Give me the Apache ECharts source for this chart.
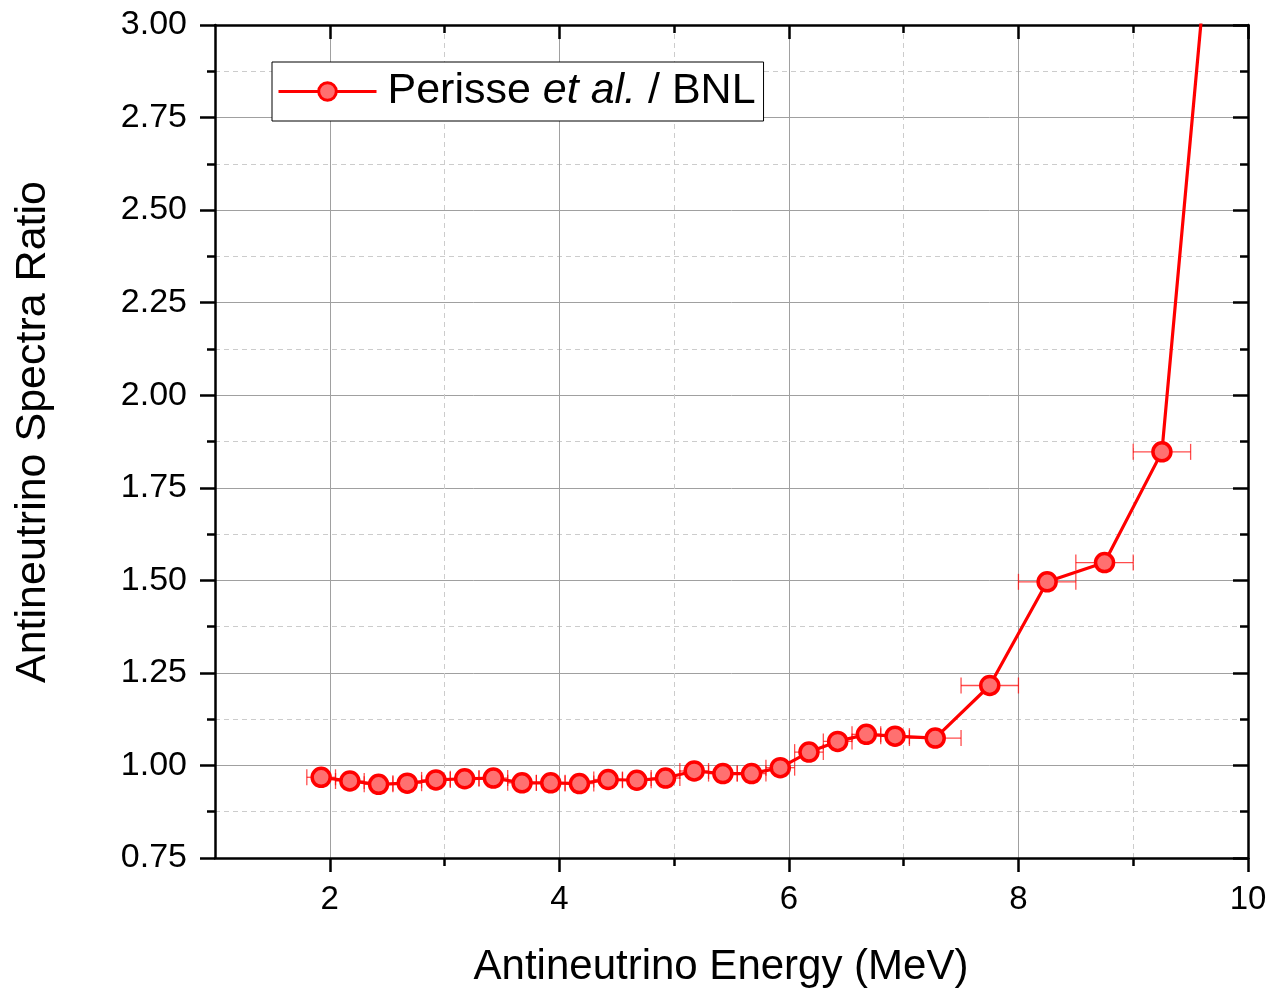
<!DOCTYPE html>
<html>
<head>
<meta charset="utf-8">
<script src="https://cdn.jsdelivr.net/npm/echarts@6/dist/echarts.min.js"></script>
<style>
  html, body { margin: 0; padding: 0; background: #fff; }
  #chart { width: 1270px; height: 990px; }
</style>
</head>
<body>
<div id="chart"></div>
<script>
// Antineutrino spectra ratio vs energy (Perisse et al. / BNL)
const energy = [1.925, 2.175, 2.425, 2.675, 2.925, 3.175, 3.425, 3.675, 3.925, 4.175,
                4.425, 4.675, 4.925, 5.175, 5.425, 5.675, 5.925, 6.175, 6.425, 6.675,
                6.925, 7.275, 7.75, 8.25, 8.75, 9.25, 9.75];
const ratio = [0.968, 0.958, 0.949, 0.952, 0.961, 0.964, 0.966, 0.953, 0.953, 0.951,
               0.962, 0.960, 0.966, 0.985, 0.978, 0.978, 0.994, 1.036, 1.065, 1.084,
               1.079, 1.074, 1.216, 1.496, 1.548, 1.847, 3.55];
const binLow = [1.80, 2.05, 2.30, 2.55, 2.80, 3.05, 3.30, 3.55, 3.80, 4.05,
                4.30, 4.55, 4.80, 5.05, 5.30, 5.55, 5.80, 6.05, 6.30, 6.55,
                6.80, 7.05, 7.50, 8.00, 8.50, 9.00, 9.50];
const binHigh = [2.05, 2.30, 2.55, 2.80, 3.05, 3.30, 3.55, 3.80, 4.05, 4.30,
                 4.55, 4.80, 5.05, 5.30, 5.55, 5.80, 6.05, 6.30, 6.55, 6.80,
                 7.05, 7.50, 8.00, 8.50, 9.00, 9.50, 10.00];
const xMajorTicks = [2, 4, 6, 8, 10];
const xMinorTicks = [3, 5, 7, 9];

const FONT = "'Liberation Sans', Arial, sans-serif";
const RED = '#ff0000';
const FILL = '#ff7070';
const ERR = 'rgba(255, 0, 0, 0.7)';
const MAJOR_GRID = '#a0a0a0';
const MINOR_GRID = '#cccccc';

const lineData = energy.map((e, i) => [e, ratio[i]]);
const errData = energy.map((e, i) => [binLow[i], binHigh[i], ratio[i]]);

const gridBox = { left: 215, right: 22, top: 25, bottom: 132 };

const chart = echarts.init(document.getElementById('chart'), null, { renderer: 'canvas' });

chart.setOption({
  backgroundColor: '#fff',
  animation: false,
  grid: [
    Object.assign({ containLabel: false }, gridBox),
    Object.assign({ containLabel: false }, gridBox)
  ],
  xAxis: [
    { // bottom axis, even values with labels and solid grid lines
      type: 'value', gridIndex: 0, position: 'bottom', min: 1, max: 10, interval: 1,
      axisLine: { show: true, onZero: false, lineStyle: { color: '#000', width: 2.5 } },
      axisTick: { show: true, inside: false, length: 14, customValues: xMajorTicks,
                  lineStyle: { color: '#000', width: 2.5 } },
      axisLabel: { show: true, customValues: xMajorTicks, margin: 25, color: '#000',
                   fontSize: 33, fontFamily: FONT },
      splitLine: { show: true, lineStyle: { color: MAJOR_GRID, width: 1, type: 'solid' } }
    },
    { // top axis, even values, inward ticks
      type: 'value', gridIndex: 0, position: 'top', min: 1, max: 10, interval: 1,
      axisLine: { show: true, onZero: false, lineStyle: { color: '#000', width: 2.5 } },
      axisTick: { show: true, inside: true, length: 14, customValues: xMajorTicks,
                  lineStyle: { color: '#000', width: 2.5 } },
      axisLabel: { show: false },
      splitLine: { show: false }
    },
    { // bottom axis, odd values: short ticks and dashed grid lines
      type: 'value', gridIndex: 1, position: 'bottom', min: 1, max: 10, interval: 1,
      axisLine: { show: false, onZero: false },
      axisTick: { show: true, inside: false, length: 8, customValues: xMinorTicks,
                  lineStyle: { color: '#000', width: 2.5 } },
      axisLabel: { show: false },
      splitLine: { show: true, lineStyle: { color: MINOR_GRID, width: 1, type: [5, 4] } }
    },
    { // top axis, odd values: short inward ticks
      type: 'value', gridIndex: 1, position: 'top', min: 1, max: 10, interval: 1,
      axisLine: { show: false, onZero: false },
      axisTick: { show: true, inside: true, length: 8, customValues: xMinorTicks,
                  lineStyle: { color: '#000', width: 2.5 } },
      axisLabel: { show: false },
      splitLine: { show: false }
    }
  ],
  yAxis: [
    { // left axis with labels
      type: 'value', gridIndex: 0, position: 'left', min: 0.75, max: 3, interval: 0.25,
      axisLine: { show: true, onZero: false, lineStyle: { color: '#000', width: 2.5 } },
      axisTick: { show: true, inside: false, length: 15, lineStyle: { color: '#000', width: 2.5 } },
      minorTick: { show: true, splitNumber: 2, length: 8, lineStyle: { color: '#000', width: 2.5 } },
      axisLabel: { show: true, margin: 28, color: '#000', fontSize: 34, fontFamily: FONT,
                   formatter: v => v.toFixed(2) },
      splitLine: { show: true, lineStyle: { color: MAJOR_GRID, width: 1 } },
      minorSplitLine: { show: true, lineStyle: { color: MINOR_GRID, width: 1, type: [5, 4] } }
    },
    { // right axis, inward ticks
      type: 'value', gridIndex: 0, position: 'right', min: 0.75, max: 3, interval: 0.25,
      axisLine: { show: true, onZero: false, lineStyle: { color: '#000', width: 2.5 } },
      axisTick: { show: true, inside: true, length: 15, lineStyle: { color: '#000', width: 2.5 } },
      minorTick: { show: true, splitNumber: 2, length: 8, lineStyle: { color: '#000', width: 2.5 } },
      axisLabel: { show: false },
      splitLine: { show: false }
    },
    { // companion axis for the second grid
      type: 'value', gridIndex: 1, position: 'left', min: 0.75, max: 3, interval: 0.25,
      show: false, splitLine: { show: false }
    }
  ],
  legend: {
    show: true,
    left: 272, top: 62,
    orient: 'horizontal',
    backgroundColor: '#fff',
    borderColor: '#000', borderWidth: 1,
    padding: [8, 8, 8, 5],
    itemWidth: 98, itemHeight: 22,
    lineStyle: { width: 3, color: RED },
    itemStyle: { color: FILL, borderColor: RED, borderWidth: 3 },
    data: ['Perisse et al. / BNL'],
    formatter: () => '{p|Perisse }{i|et al.}{n| / BNL}',
    textStyle: {
      color: '#000',
      fontFamily: FONT,
      fontSize: 43,
      rich: {
        p: { fontSize: 43, fontFamily: FONT, color: '#000', padding: [0, 0, 0, 6] },
        n: { fontSize: 43, fontFamily: FONT, color: '#000' },
        i: { fontSize: 43, fontFamily: FONT, fontStyle: 'italic', color: '#000' }
      }
    }
  },
  graphic: [
    {
      type: 'text', x: 721, y: 967, z: 10,
      style: { text: 'Antineutrino Energy (MeV)', font: `42px ${FONT}`, fill: '#000',
               textAlign: 'center', textVerticalAlign: 'middle' }
    },
    {
      type: 'text', x: 33, y: 432, rotation: Math.PI / 2, z: 10,
      style: { text: 'Antineutrino Spectra Ratio', font: `43px ${FONT}`, fill: '#000',
               textAlign: 'center', textVerticalAlign: 'middle' }
    }
  ],
  series: [
    {
      name: 'bins',
      type: 'custom',
      xAxisIndex: 0, yAxisIndex: 0,
      clip: true,
      z: 2,
      data: errData,
      encode: { x: [0, 1], y: 2 },
      renderItem: (params, api) => {
        const y = api.value(2);
        const lo = api.coord([api.value(0), y]);
        const hi = api.coord([api.value(1), y]);
        const cap = 8;
        const style = { stroke: ERR, lineWidth: 1.3 };
        return {
          type: 'group',
          children: [
            { type: 'line', shape: { x1: lo[0], y1: lo[1], x2: hi[0], y2: hi[1] }, style },
            { type: 'line', shape: { x1: lo[0], y1: lo[1] - cap, x2: lo[0], y2: lo[1] + cap }, style },
            { type: 'line', shape: { x1: hi[0], y1: hi[1] - cap, x2: hi[0], y2: hi[1] + cap }, style }
          ]
        };
      }
    },
    {
      name: 'Perisse et al. / BNL',
      type: 'line',
      xAxisIndex: 0, yAxisIndex: 0,
      clip: true,
      z: 3,
      data: lineData,
      symbol: 'circle',
      symbolSize: 18,
      showAllSymbol: true,
      lineStyle: { color: RED, width: 3.2 },
      itemStyle: { color: FILL, borderColor: RED, borderWidth: 3.5 }
    }
  ]
});
</script>
</body>
</html>
